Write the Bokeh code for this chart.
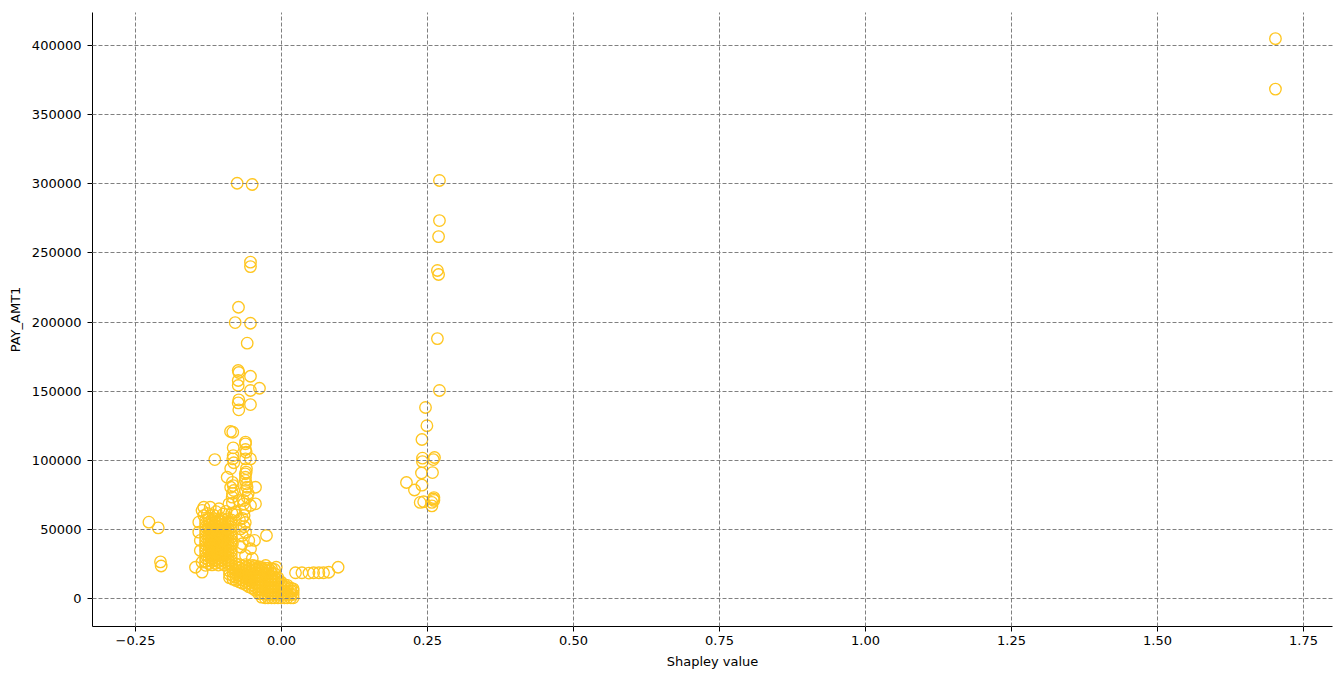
from bokeh.plotting import figure
from bokeh.models import Range1d, FixedTicker, ColumnDataSource
from bokeh.embed import file_html
from bokeh.resources import INLINE

# ---------------- data ----------------
x_ticks = [-0.25, 0.0, 0.25, 0.5, 0.75, 1.0, 1.25, 1.5, 1.75]
x_tick_labels = ["\u22120.25", "0.00", "0.25", "0.50", "0.75", "1.00", "1.25", "1.50", "1.75"]
y_ticks = [0, 50000, 100000, 150000, 200000, 250000, 300000, 350000, 400000]
y_tick_labels = ["0", "50000", "100000", "150000", "200000", "250000", "300000", "350000", "400000"]

# isolated points: (shapley value, PAY_AMT1)
far_x = [1.702, 1.702]
far_y = [405000, 368500]

mid_x = [0.2705, 0.2705, 0.269, 0.267, 0.269, 0.267, 0.2705, 0.2466, 0.249, 0.2405, 0.2414, 0.2414,
         0.262, 0.260, 0.2586, 0.2397, 0.214, 0.2277, 0.2405, 0.261, 0.261, 0.2575, 0.2375, 0.2575,
         0.2600, 0.2435]
mid_y = [302400, 273400, 261800, 237300, 234400, 188000, 150500, 138200, 125000, 115000, 101500, 99000,
         102000, 100500, 91100, 90800, 83900, 78500, 82000, 73000, 71000, 67000, 69500, 69500,
         72000, 70000]

col_x = [-0.0759, -0.0502, -0.0531, -0.0531, -0.0736, -0.0793, -0.0531, -0.0587, -0.0741, -0.0731,
         -0.0741, -0.0531, -0.0377, -0.0741, -0.0531, -0.0731, -0.0741, -0.0531, -0.0731,
         -0.0873, -0.0834, -0.0616, -0.0827, -0.0616, -0.0605, -0.0827, -0.1142, -0.0834, -0.0817,
         -0.0616, -0.0531, -0.0605, -0.0616, -0.0930, -0.0445, -0.0827, -0.0817, -0.0616, -0.0587,
         -0.0844, -0.0445, -0.1330, -0.0645, -0.0620, -0.0620, -0.0590, -0.0870, -0.0840, -0.0650,
         -0.0620, -0.0616, -0.0870, -0.0840, -0.0600, -0.0600, -0.0570, -0.0840, -0.0640, -0.0620,
         -0.0780]
col_y = [300400, 299500, 243300, 240100, 210700, 199600, 199100, 184700, 164900, 163500,
         157700, 160800, 152100, 154100, 150500, 143700, 141500, 140300, 136500,
         120800, 120300, 113100, 109000, 107800, 105800, 103400, 100500, 101000, 98200,
         101000, 101000, 91400, 87700, 87700, 80500, 81700, 78100, 78100, 73300,
         73300, 68500, 66000, 68500, 90200, 85400, 80500, 80500, 76000, 70900,
         64900, 111900, 94000, 84000, 94000, 83000, 76000, 69000, 60000, 55000,
         60500]

side_x = [-0.227, -0.211, -0.2072, -0.206, -0.1473, -0.0462, -0.0257, -0.070, -0.067, -0.067,
          -0.070, -0.084, -0.1416, -0.1416, -0.139, -0.139, -0.136, -0.136, -0.0616, -0.056,
          -0.053, -0.0616, -0.136, -0.122, -0.107, -0.090, -0.073, -0.053, -0.079, -0.133,
          -0.127, -0.117, -0.112, -0.100, -0.095, -0.085, -0.067, -0.064, -0.072, -0.050]
side_y = [55200, 51100, 26500, 23500, 22600, 42000, 45600, 50400, 45600, 39600,
          37100, 39600, 55200, 48000, 42000, 34700, 26300, 19100, 48000, 42000,
          36000, 31100, 63700, 66000, 64900, 68500, 70900, 67300, 62500, 60000,
          61500, 60500, 62800, 61000, 63000, 61800, 58000, 52000, 57000, 29000]

row_x = [0.024, 0.035, 0.047, 0.055, 0.064, 0.072, 0.081, 0.097, -0.009, -0.019, -0.027]
row_y = [18600, 18600, 18400, 18600, 18600, 18600, 19000, 22600, 22600, 20300, 23900]

# dense block left of zero: shapley value -> PAY_AMT1 values
block_a = [
    (-0.1300, [24000, 26800, 29300, 31700, 34400, 36900, 39200, 41800, 44300, 46900, 49400, 51700, 54300, 56800]),
    (-0.1245, [25200, 27700, 30300, 32800, 35200, 37800, 40300, 42700, 45300, 47800, 50300, 52800, 55200, 57700]),
    (-0.1190, [24300, 26900, 29400, 31800, 34300, 36800, 39400, 41900, 44200, 46800, 49300, 51900, 54400, 56900]),
    (-0.1135, [25400, 27800, 30200, 32700, 35300, 37700, 40200, 42800, 45200, 47700, 50200, 52700, 55300, 57600]),
    (-0.1080, [24200, 26700, 29200, 31900, 34200, 36700, 39300, 41700, 44400, 46700, 49200, 51800, 54200, 56700]),
    (-0.1025, [25300, 27900, 30400, 32900, 35400, 37900, 40400, 42900, 45400, 47900, 50400, 52900, 55400, 57900]),
    (-0.0970, [24100, 26600, 29100, 31600, 34100, 36600, 39100, 41600, 44100, 46600, 49100, 51600, 54100, 56600]),
    (-0.0915, [25100, 27600, 30100, 32600, 35100, 37600, 40100, 42600, 45100, 47600, 50100, 52600, 55100, 57600]),
    (-0.0860, [24400, 26900, 29400, 31900, 34400, 36900, 39400, 41900, 44400, 46900, 49400, 51900, 54400, 56900]),
]

# dense band running down to zero
block_b = [
    (-0.089, [15000, 17500, 20000]),
    (-0.083, [14000, 16500, 19000, 21500]),
    (-0.078, [13000, 15500, 18000, 20500, 23000, 25000]),
    (-0.072, [12000, 14500, 17000, 19500, 22000, 24500]),
    (-0.067, [11000, 13500, 16000, 18500, 21000, 23500]),
    (-0.061, [10000, 12500, 15000, 17500, 20000, 22500, 24500]),
    (-0.056, [8500, 11000, 13500, 16000, 18500, 21000, 23500]),
    (-0.050, [7500, 10000, 12500, 15000, 17500, 20000, 22500, 24000]),
    (-0.045, [6000, 8500, 11000, 13500, 16000, 18500, 21000, 23500]),
    (-0.039, [3500, 6000, 8500, 11000, 13500, 16000, 18500, 21000, 23000]),
    (-0.034, [1000, 3500, 6000, 8500, 11000, 13500, 16000, 18500, 21000, 22500]),
    (-0.028, [500, 3000, 5500, 8000, 10500, 13000, 15500, 18000, 20500, 22000]),
    (-0.023, [500, 3000, 5500, 8000, 10500, 13000, 15500, 18000, 20000, 22000]),
    (-0.017, [500, 3000, 5500, 8000, 10500, 13000, 15500, 18000, 21500]),
    (-0.012, [500, 3000, 5500, 8000, 10500, 13000, 15500, 18000, 21000]),
    (-0.006, [500, 3000, 5500, 8000, 10500, 13000, 15000]),
    (-0.001, [500, 3000, 5500, 8000, 10500, 12000]),
    (0.005, [500, 3000, 5500, 8000, 10000]),
    (0.010, [500, 3000, 5500, 8000, 9500]),
    (0.016, [500, 3000, 5500, 7500]),
    (0.020, [500, 3000, 5500, 7000]),
]

# ---------------- assemble ----------------
xs = far_x + mid_x + col_x + side_x + row_x
ys = far_y + mid_y + col_y + side_y + row_y
for bx, bys in block_a + block_b:
    xs += [bx] * len(bys)
    ys += list(bys)

src = ColumnDataSource(data=dict(x=xs, y=ys))

FONT = "DejaVu Sans"

p = figure(
    frame_width=1240, frame_height=614,
    x_range=Range1d(-0.3236, 1.7997), y_range=Range1d(-20250, 423900),
    output_backend="svg", toolbar_location=None,
    min_border_left=92, min_border_right=5, min_border_top=12, min_border_bottom=50,
)
p.outline_line_color = None
p.background_fill_color = "white"
p.border_fill_color = "white"

p.scatter("x", "y", source=src, marker="circle", size=11.5,
          fill_color=None, line_color="#FFC620", line_width=1.35)

p.xaxis.ticker = FixedTicker(ticks=x_ticks)
p.yaxis.ticker = FixedTicker(ticks=y_ticks)
p.xaxis.major_label_overrides = {t: l for t, l in zip(x_ticks, x_tick_labels)}
p.yaxis.major_label_overrides = {t: l for t, l in zip(y_ticks, y_tick_labels)}

for ax in (p.xaxis, p.yaxis):
    ax.axis_line_color = "black"
    ax.axis_line_width = 1
    ax.major_tick_line_color = "black"
    ax.major_tick_out = 5
    ax.major_tick_in = 0
    ax.minor_tick_line_color = None
    ax.major_label_text_font = FONT
    ax.major_label_text_font_size = "13px"
    ax.major_label_text_color = "black"
    ax.axis_label_text_font = FONT
    ax.axis_label_text_font_size = "13px"
    ax.axis_label_text_font_style = "normal"
    ax.axis_label_text_color = "black"

p.xaxis.axis_label = "Shapley value"
p.yaxis.axis_label = "PAY_AMT1"
p.xaxis.major_label_standoff = 4
p.xaxis.axis_label_standoff = 6
p.yaxis.major_label_standoff = 6
p.yaxis.axis_label_standoff = 6

for g in (p.xgrid, p.ygrid):
    g.grid_line_color = "#808080"
    g.grid_line_dash = "4 2"
    g.grid_line_width = 1
    g.level = "overlay"

open("out.html", "w").write(file_html(p, INLINE))
